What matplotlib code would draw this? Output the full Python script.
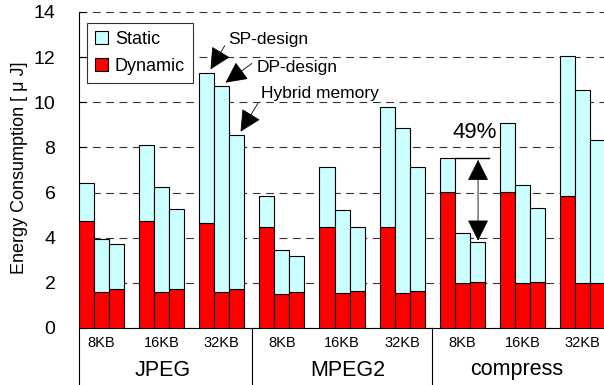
import matplotlib
matplotlib.use('Agg')
import matplotlib.pyplot as plt
from matplotlib.patches import Patch, FancyArrowPatch
from matplotlib.transforms import blended_transform_factory

benchmarks = ['JPEG', 'MPEG2', 'compress']
sizes = ['8KB', '16KB', '32KB']
designs = ['SP-design', 'DP-design', 'Hybrid memory']

# order: JPEG 8/16/32KB, MPEG2 8/16/32KB, compress 8/16/32KB
sp_dynamic = [4.74, 4.74, 4.67, 4.49, 4.49, 4.49, 6.01, 6.01, 5.86]
sp_static = [1.68, 3.35, 6.64, 1.36, 2.63, 5.29, 1.54, 3.06, 6.19]
dp_dynamic = [1.60, 1.60, 1.60, 1.51, 1.55, 1.55, 1.98, 1.98, 1.98]
dp_static = [2.36, 4.63, 9.12, 1.96, 3.69, 7.31, 2.24, 4.34, 8.56]
hy_dynamic = [1.74, 1.74, 1.74, 1.60, 1.64, 1.64, 2.04, 2.04, 1.98]
hy_static = [1.97, 3.55, 6.81, 1.60, 2.85, 5.48, 1.78, 3.29, 6.34]

reduction_label = '49%'
yticks = [0, 2, 4, 6, 8, 10, 12, 14]

STATIC_C = '#CCFFFF'
DYN_C = '#FF0000'
FONT = ['Liberation Sans', 'DejaVu Sans']
NARROW = ['Liberation Sans Narrow', 'Liberation Sans', 'DejaVu Sans']

plt.rcParams['font.family'] = FONT

W, H = 604, 385
fig = plt.figure(figsize=(W / 100, H / 100), dpi=100)
ax = fig.add_axes([79 / W, 57 / H, 525 / W, 316 / H])

dyn_sets = [sp_dynamic, dp_dynamic, hy_dynamic]
sta_sets = [sp_static, dp_static, hy_static]
n_groups = len(sp_dynamic)
for j in range(3):
    xs = [g * 4 + j for g in range(n_groups)]
    ax.bar(xs, dyn_sets[j], width=1, align='edge', color=DYN_C,
           edgecolor='black', linewidth=0.8, zorder=3)
    ax.bar(xs, sta_sets[j], bottom=dyn_sets[j], width=1, align='edge',
           color=STATIC_C, edgecolor='black', linewidth=0.8, zorder=3)

ax.set_xlim(0, 34.93)
ax.set_ylim(0, 14)
ax.set_yticks(yticks)
ax.set_yticklabels([str(t) for t in yticks], family=NARROW, fontsize=14)
ax.tick_params(axis='y', direction='in', length=5, width=0.8, pad=17)
ax.set_xticks([])
ax.yaxis.grid(True, color='#333333', linestyle=(0, (7, 5)), linewidth=0.8)
ax.set_axisbelow(True)
for s in ['top', 'right']:
    ax.spines[s].set_visible(False)
ax.spines['left'].set_linewidth(0.8)
ax.spines['bottom'].set_linewidth(0.8)

fig.text(20 / W, 1 - 168 / H, 'Energy Consumption [ μ J]', rotation=90,
         ha='center', va='center', fontsize=13)

# category labels under axis
trans = blended_transform_factory(ax.transData, ax.transAxes)
below = -57 / 316
for g in range(n_groups):
    ax.text(g * 4 + 1.5, -15 / 316, sizes[g % 3], transform=trans,
            ha='center', va='center', fontsize=10.5)
bench_x = [5.6, 17.9, 29.1]
for b, name in enumerate(benchmarks):
    ax.text(bench_x[b], -42 / 316, name, transform=trans, ha='center',
            va='center', fontsize=15.5)
for sx in [0, 11.5, 23.5]:
    ax.plot([sx, sx], [0, below], transform=trans, color='black',
            linewidth=0.8, clip_on=False)

# legend
handles = [Patch(facecolor=STATIC_C, edgecolor='black', linewidth=0.8),
           Patch(facecolor=DYN_C, edgecolor='black', linewidth=0.8)]
leg = ax.legend(handles, ['Static', 'Dynamic'], loc='upper left',
                bbox_to_anchor=(8 / 525, 1 - 11 / 316), fontsize=13,
                handlelength=0.7, handleheight=0.7, handletextpad=0.4,
                labelspacing=0.55, borderpad=0.45, borderaxespad=0,
                fancybox=False, framealpha=1, edgecolor='#333333')
leg.get_frame().set_linewidth(0.8)

# design annotations on JPEG 32KB
g = 2
tops = [sp_dynamic[g] + sp_static[g], dp_dynamic[g] + dp_static[g],
        hy_dynamic[g] + hy_static[g]]
tails = [(g * 4 + 1.7, tops[0] + 1.2), (g * 4 + 3.5, tops[1] + 1.0),
         (g * 4 + 3.9, tops[2] + 1.4)]
text_pos = [(g * 4 + 1.9, 12.76), (g * 4 + 3.85, 11.56), (g * 4 + 4.1, 10.41)]
for j in range(3):
    tip = (g * 4 + j + 0.75, tops[j] + 0.15)
    ax.add_patch(FancyArrowPatch(tails[j], tip,
                                 arrowstyle='-|>,head_length=0.9,head_width=0.45',
                                 mutation_scale=15, color='black',
                                 linewidth=0.6, shrinkA=0, shrinkB=0, zorder=5))
    ax.text(text_pos[j][0], text_pos[j][1], designs[j], ha='left',
            va='center', fontsize=12.5, zorder=5)

# 49% reduction on compress 8KB
g = 6
top_sp = sp_dynamic[g] + sp_static[g]
top_hy = hy_dynamic[g] + hy_static[g]
ax.plot([g * 4 + 1, g * 4 + 3.3], [top_sp, top_sp], color='black',
        linewidth=1.0, zorder=5)
ax.add_patch(FancyArrowPatch((g * 4 + 2.55, top_sp - 0.1),
                             (g * 4 + 2.55, top_hy + 0.05),
                             arrowstyle='<|-|>,head_length=0.9,head_width=0.45',
                             mutation_scale=15, color='black', linewidth=0.6,
                             shrinkA=0, shrinkB=0, zorder=5))
ax.text(g * 4 + 2.3, 8.64, reduction_label, ha='center', va='center',
        fontsize=16, zorder=5)

fig.savefig('out.png', dpi=100)
